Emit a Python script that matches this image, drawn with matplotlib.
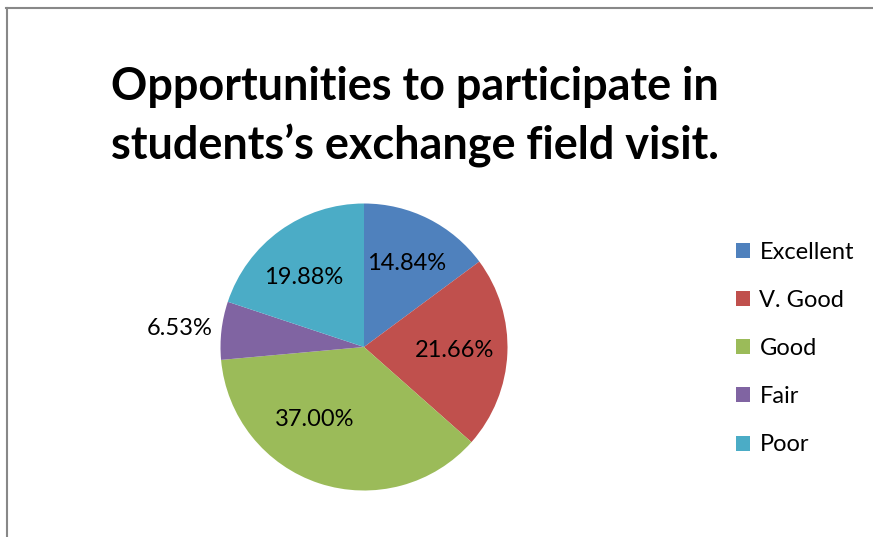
import matplotlib
matplotlib.use("Agg")
import matplotlib.pyplot as plt
from matplotlib.patches import Patch
from matplotlib.lines import Line2D
import numpy as np

categories = ["Excellent", "V. Good", "Good", "Fair", "Poor"]
values = [14.84, 21.66, 37.00, 6.53, 19.88]
colors = ["#4F81BD", "#C0504D", "#9BBB59", "#8064A2", "#4BACC6"]
label_dist = [0.655, 0.635, 0.61, 1.29, 0.64]
label_shift_deg = [0, 0, -16, 1, 5]
title = "Opportunities to participate in\nstudents\u2019s exchange field visit."

plt.rcParams['font.family'] = ['Lato', 'DejaVu Sans']

W, H = 873, 537
fig = plt.figure(figsize=(W / 100, H / 100), dpi=100)

cx, cy, r = 364, 347, 143.5
ax = fig.add_axes([(cx - r) / W, (H - cy - r) / H, 2 * r / W, 2 * r / H])
wedges, texts, autotexts = ax.pie(values, colors=colors, startangle=90, counterclock=False,
                                  autopct="%.2f%%", pctdistance=0.65, radius=1,
                                  wedgeprops=dict(linewidth=0))
for w, t, d, s, v in zip(wedges, autotexts, label_dist, label_shift_deg, values):
    ang = np.deg2rad((w.theta1 + w.theta2) / 2 + s)
    t.set_position((d * np.cos(ang), d * np.sin(ang)))
    t.set_text(f"{v:.2f}%")
    t.set_fontsize(17)
    t.set_color("black")
ax.set_xlim(-1, 1)
ax.set_ylim(-1, 1)
ax.set_aspect("equal")
ax.axis("off")

fig.text(415 / W, 1 - 117 / H, title, ha="center", va="center", fontsize=32.4,
         fontweight="bold", linespacing=1.45)

handles = [Patch(facecolor=c, edgecolor="none") for c in colors]
fig.legend(handles, categories, loc="upper left", bbox_to_anchor=(724 / W, 1 - 230 / H),
           frameon=False, fontsize=17, handlelength=0.6, handleheight=0.6,
           handletextpad=0.4, labelspacing=1.15, borderpad=0)

fig.add_artist(Line2D([6.5 / W, 6.5 / W], [0, 1 - 8 / H], transform=fig.transFigure,
                      color="#888888", linewidth=1.5))
fig.add_artist(Line2D([6 / W, 1], [1 - 8 / H, 1 - 8 / H], transform=fig.transFigure,
                      color="#888888", linewidth=1.5))

fig.savefig("out.png", dpi=100)
